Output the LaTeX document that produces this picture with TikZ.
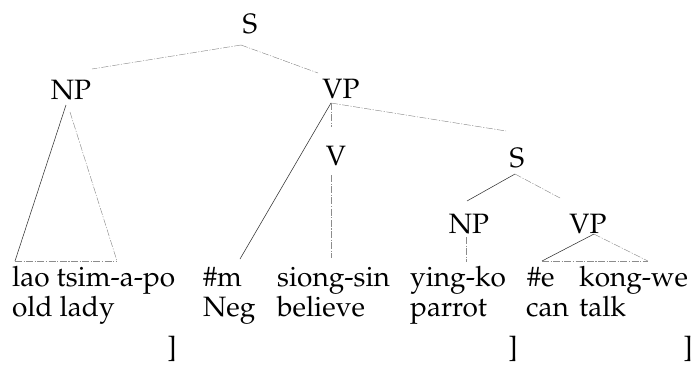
\documentclass[tikz,border=0pt]{standalone}
\usepackage[T1]{fontenc}
\usepackage{mathpazo}
\begin{document}
\begin{tikzpicture}[x=1pt,y=-1pt,
  every node/.style={inner sep=0pt, font=\fontsize{28}{32}\selectfont},
  cat/.style={anchor=base},
  word/.style={anchor=base west},
  branch/.style={draw=black!80, line width=0.55pt},
  faint/.style={draw=black!45, line width=0.45pt, dash pattern=on 7pt off 1.5pt on 1.2pt off 1.5pt}]
\useasboundingbox (0,0) rectangle (694,365);

% category labels
\node[cat] (S)   at (250,33)  {S};
\node[cat] (NP)  at (71,99)   {NP};
\node[cat] (VP)  at (341,98)  {VP};
\node[cat] (V)   at (336,165) {V};
\node[cat] (S2)  at (517,167) {S};
\node[cat] (NP2) at (469,233) {NP};
\node[cat] (VP2) at (588,233) {VP};

% attachment points of the branches
\coordinate (S-foot)   at (241,45);
\coordinate (NP-head)  at (92,69);
\coordinate (VP-head)  at (318,73);
\coordinate (NP-foot)  at (66,105);
\coordinate (NP-foot2) at (70,112);
\coordinate (NP-bl)    at (15,261);
\coordinate (NP-br)    at (117,261);
\coordinate (VP-foot)  at (331,103);
\coordinate (V-head)   at (331,127);
\coordinate (V-foot)   at (331,175);
\coordinate (V-end)    at (331,258);
\coordinate (S2-head)  at (506,131);
\coordinate (S2-foot)  at (515,174);
\coordinate (NP2-head) at (467,201);
\coordinate (VP2-head) at (560,198);
\coordinate (NP2-foot) at (466,237);
\coordinate (NP2-end)  at (466,262);
\coordinate (VP2-foot) at (594,234);
\coordinate (VP2-bl)   at (542,261);
\coordinate (VP2-br)   at (648,261);
\coordinate (m-head)   at (240,259);

% words, first line
\node[word] (w1) at (12,286)  {lao tsim-a-po};
\node[word] (w2) at (203,286) {\#m};
\node[word] (w3) at (277,286) {siong-sin};
\node[word] (w4) at (410,286) {ying-ko};
\node[word] (w5) at (527,286) {\#e};
\node[word] (w6) at (579,286) {kong-we};
% glosses
\node[word] (g1) at (12,316)  {old lady};
\node[word] (g2) at (203,316) {Neg};
\node[word] (g3) at (277,316) {believe};
\node[word] (g4) at (410,316) {parrot};
\node[word] (g5) at (526,316) {can};
\node[word] (g6) at (579,316) {talk};
% brackets
\node[cat] (b1) at (172,356) {]};
\node[cat] (b2) at (513,356) {]};
\node[cat] (b3) at (688,356) {]};

% branches
\draw[faint]  (S-foot) -- (NP-head);
\draw[faint]  (S-foot) -- (VP-head);
\draw[branch] (NP-foot) -- (NP-bl);
\draw[faint]  (NP-bl) -- (NP-br);
\draw[faint]  (NP-foot2) -- (NP-br);
\draw[branch] (VP-foot) -- (m-head);
\draw[faint]  (VP-foot) -- (V-head);
\draw[faint]  (VP-foot) -- (S2-head);
\draw[faint]  (V-foot) -- (V-end);
\draw[branch] (S2-foot) -- (NP2-head);
\draw[faint]  (S2-foot) -- (VP2-head);
\draw[faint]  (NP2-foot) -- (NP2-end);
\draw[branch] (VP2-foot) -- (VP2-bl);
\draw[faint]  (VP2-foot) -- (VP2-br);
\draw[faint]  (VP2-bl) -- (VP2-br);
\end{tikzpicture}
\end{document}
